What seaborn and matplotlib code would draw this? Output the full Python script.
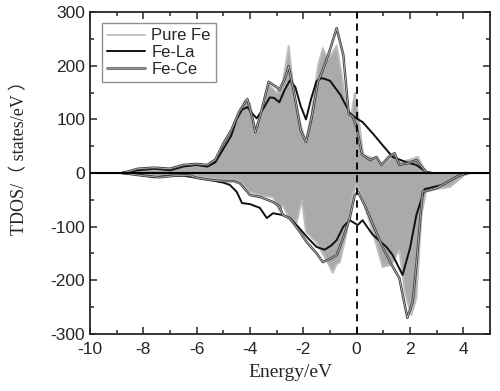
import numpy as np
import matplotlib
matplotlib.use("Agg")
import matplotlib.pyplot as plt
import matplotlib.patheffects as pe
from matplotlib.ticker import MultipleLocator
import pandas as pd
import seaborn as sns

####data####
# spin up
fe_up_x = [-8.8, -8.2, -7.8, -7.3, -6.8, -6.3, -6.0, -5.6, -5.3, -5.0, -4.7, -4.4, -4.2, -4.0, -3.8, -3.6, -3.3, -3.0,
           -2.8, -2.55, -2.35, -2.1, -1.9, -1.7, -1.45, -1.27, -1.1, -0.9, -0.75, -0.55, -0.35, -0.2, -0.07, 0.05,
           0.25, 0.5, 0.75, 1.0, 1.4, 1.6, 2.0, 2.3, 2.5, 2.7]
fe_up_y = [0, 5, 8, 5, 10, 12, 15, 15, 25, 50, 75, 110, 135, 130, 80, 110, 165, 150,
           160, 237, 150, 90, 58, 110, 200, 233, 212, 225, 238, 180, 110, 108, 150, 110,
           33, 30, 25, 15, 35, 20, 25, 30, 10, 0]

ce_up_x = [-8.8, -8.2, -7.6, -7.0, -6.5, -6.0, -5.6, -5.3, -5.0, -4.7, -4.4, -4.1, -3.9, -3.8, -3.6, -3.3, -3.0, -2.9,
           -2.7, -2.55, -2.35, -2.1, -1.9, -1.7, -1.45, -1.27, -1.0, -0.75, -0.5, -0.3, -0.15, 0.0, 0.2, 0.5,
           0.74, 0.93, 1.2, 1.42, 1.6, 1.9, 2.24, 2.6, 2.8]
ce_up_y = [0, 8, 10, 8, 15, 17, 15, 25, 55, 80, 115, 138, 100, 76, 110, 170, 160, 155,
           175, 199, 150, 80, 58, 100, 170, 192, 230, 270, 220, 110, 105, 85, 35, 24,
           30, 15, 30, 37, 15, 18, 24, 2, 0]

la_up_x = [-8.8, -8.2, -7.6, -7.0, -6.5, -6.0, -5.6, -5.3, -5.0, -4.7, -4.5, -4.3, -4.1, -3.9, -3.75, -3.5, -3.26, -3.1,
           -2.9, -2.7, -2.5, -2.3, -2.1, -1.9, -1.7, -1.5, -1.3, -1.0, -0.6, -0.26, -0.07, 0.22, 0.6, 0.97,
           1.35, 1.87, 2.24, 2.6, 2.8]
la_up_y = [0, 5, 8, 5, 12, 15, 12, 20, 45, 70, 100, 118, 123, 110, 102, 120, 141, 140,
           132, 155, 173, 160, 125, 100, 140, 172, 177, 172, 145, 112, 104, 95, 74, 52,
           30, 20, 15, 2, 0]

# spin down
fe_dn_x = [-8.8, -8.0, -7.4, -6.8, -6.3, -6.0, -5.5, -5.0, -4.6, -4.38, -4.0, -3.6, -3.14, -2.9, -2.77, -2.5, -2.25,
           -2.06, -1.9, -1.5, -1.1, -0.9, -0.75, -0.63, -0.37, -0.15, 0.0, 0.2, 0.6, 0.97, 1.3, 1.6, 1.8, 2.05,
           2.24, 2.43, 2.6, 3.0, 3.5, 4.04, 4.3]
fe_dn_y = [0, -4, -6, -5, -4, -6, -10, -12, -12, -15, -35, -42, -45, -70, -60, -88, -93,
           -50, -110, -130, -166, -186, -170, -166, -110, -40, -22, -45, -110, -175, -171, -143, -222, -265,
           -233, -78, -35, -30, -26, -4, 0]

ce_dn_x = [-8.8, -8.0, -7.4, -6.8, -6.3, -6.0, -5.5, -5.0, -4.6, -4.38, -4.0, -3.6, -3.14, -2.9, -2.77, -2.5, -2.2,
           -1.87, -1.5, -1.27, -1.0, -0.75, -0.5, -0.26, -0.07, 0.05, 0.3, 0.6, 0.97, 1.3, 1.6, 1.9, 2.1, 2.24,
           2.47, 3.0, 3.75, 4.1]
ce_dn_y = [0, -5, -8, -5, -4, -9, -13, -15, -15, -19, -41, -45, -54, -62, -78, -85, -105,
           -129, -150, -166, -160, -153, -120, -84, -41, -35, -60, -95, -138, -170, -196, -270, -240, -171,
           -35, -28, -7, 0]

la_dn_x = [-8.8, -8.2, -7.6, -7.0, -6.5, -6.0, -5.5, -5.0, -4.76, -4.5, -4.3, -4.0, -3.63, -3.37, -3.14, -2.8, -2.5,
           -2.2, -1.87, -1.5, -1.2, -0.95, -0.75, -0.5, -0.26, 0.04, 0.22, 0.6, 1.12, 1.35, 1.72, 2.0, 2.24,
           2.55, 3.22, 3.86, 4.2]
la_dn_y = [0, -3, -8, -5, -5, -9, -13, -18, -22, -35, -56, -58, -65, -84, -75, -78, -84,
           -100, -119, -138, -143, -135, -125, -100, -88, -97, -88, -115, -138, -153, -190, -140, -78,
           -30, -22, -4, 0]

labels = ["Pure Fe", "Fe-La", "Fe-Ce"]

####figure settings####
sns.set_style("ticks")
plt.rcParams["font.family"] = ["Liberation Sans", "DejaVu Sans"]
plt.rcParams["axes.unicode_minus"] = False
plt.rcParams["xtick.direction"] = "in"
plt.rcParams["ytick.direction"] = "in"
plt.rcParams["axes.linewidth"] = 1.3

fig = plt.figure(figsize=(5.0, 3.91), dpi=100)
ax = fig.add_axes([0.18, 0.146, 0.80, 0.823])

fill_col = "#aaaaaa"
fe_col = "#bcbcbc"
ce_fx = [pe.Stroke(linewidth=1.8, foreground="#454545"), pe.Normal()]

# Pure Fe: filled
ax.fill_between(fe_up_x, 0, fe_up_y, color=fill_col, lw=0)
ax.fill_between(fe_dn_x, 0, fe_dn_y, color=fill_col, lw=0)
sns.lineplot(x=fe_up_x, y=fe_up_y, ax=ax, color=fe_col, lw=1.3, sort=False, label=labels[0])
sns.lineplot(x=fe_dn_x, y=fe_dn_y, ax=ax, color=fe_col, lw=1.3, sort=False)

# Fe-La
sns.lineplot(x=la_up_x, y=la_up_y, ax=ax, color="#111111", lw=1.4, sort=False, label=labels[1])
sns.lineplot(x=la_dn_x, y=la_dn_y, ax=ax, color="#111111", lw=1.4, sort=False)

# Fe-Ce (dark outline, light core)
sns.lineplot(x=ce_up_x, y=ce_up_y, ax=ax, color="#d0d0d0", lw=0.45, sort=False, label=labels[2])
sns.lineplot(x=ce_dn_x, y=ce_dn_y, ax=ax, color="#d0d0d0", lw=0.45, sort=False)
for ln in ax.lines[-2:]:
    ln.set_path_effects(ce_fx)

ax.axhline(0, color="k", lw=1.5, zorder=5)
ax.axvline(0, color="k", lw=1.3, ls=(0, (4, 3)), zorder=5)

####modify axes####
ax.set_xlim(-10, 5)
ax.set_ylim(-300, 300)
ax.xaxis.set_major_locator(MultipleLocator(2))
ax.xaxis.set_minor_locator(MultipleLocator(1))
ax.yaxis.set_major_locator(MultipleLocator(100))
ax.yaxis.set_minor_locator(MultipleLocator(50))
ax.tick_params(which="both", top=True, right=True, labelsize=12.5, width=1.1)
ax.tick_params(axis="x", pad=6)
ax.tick_params(which="major", length=5)
ax.tick_params(which="minor", length=3)

ax.set_xlabel("Energy/eV", family=["Liberation Serif", "DejaVu Serif"], fontsize=14, labelpad=5)
ax.set_ylabel("TDOS/（ states/eV ）", family=["Liberation Serif", "Noto Sans CJK SC"], fontsize=13)
ax.yaxis.set_label_coords(-0.155, 0.56)

leg = ax.legend(loc="upper left", bbox_to_anchor=(0.03, 0.965), fontsize=12, frameon=True, fancybox=False,
                edgecolor="#777777", handlelength=2.3, handletextpad=0.35, borderpad=0.3, labelspacing=0.1,
                borderaxespad=0)
leg.get_frame().set_linewidth(1.0)
leg.legend_handles[2].set_path_effects(ce_fx)

plt.savefig("out.png", dpi=100)
